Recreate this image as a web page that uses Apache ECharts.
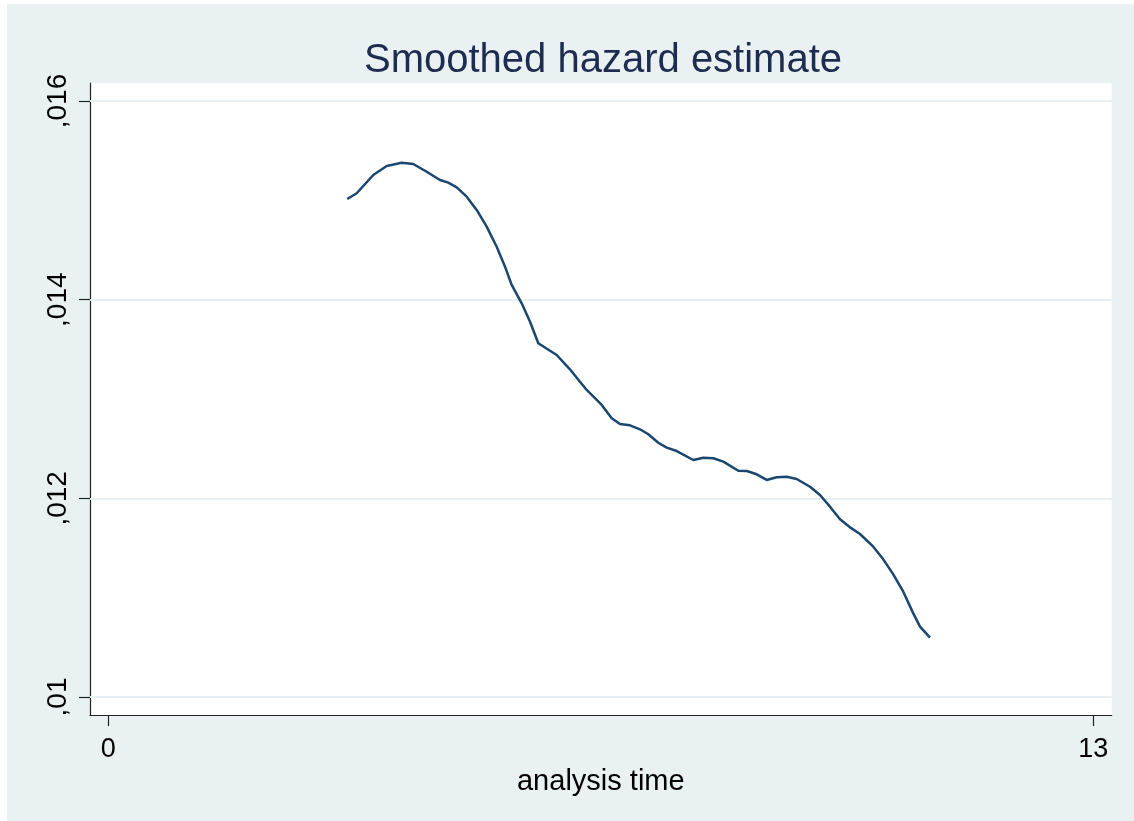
<!DOCTYPE html>
<html>
<head>
<meta charset="utf-8">
<script src="https://cdn.jsdelivr.net/npm/echarts@6/dist/echarts.min.js"></script>
<style>html,body{margin:0;padding:0;background:#fff}#c{width:1134px;height:821px}</style>
</head>
<body>
<div id="c"></div>
<script>
const titleText = 'Smoothed hazard estimate';
const xAxisName = 'analysis time';
const xTickValues = [0, 13];
const yTickValues = [0.010, 0.012, 0.014, 0.016];
const analysisTime = [3.154,3.278,3.497,3.674,3.872,4.025,4.202,4.378,4.487,4.598,4.730,4.862,4.994,5.126,5.236,5.324,5.456,5.566,5.675,5.918,6.093,6.225,6.314,6.512,6.644,6.753,6.885,7.017,7.127,7.259,7.370,7.502,7.721,7.853,7.985,8.117,8.315,8.426,8.558,8.689,8.821,8.953,9.085,9.261,9.393,9.525,9.657,9.789,9.921,10.096,10.228,10.360,10.492,10.624,10.713,10.845];
const hazard = [0.015013,0.015071,0.015255,0.015346,0.015379,0.015366,0.015288,0.015205,0.015178,0.015131,0.015037,0.014903,0.014735,0.014533,0.014332,0.014148,0.013963,0.013778,0.013561,0.013443,0.013299,0.013174,0.013091,0.012940,0.012806,0.012748,0.012735,0.012695,0.012645,0.012560,0.012510,0.012476,0.012386,0.012409,0.012403,0.012369,0.012278,0.012275,0.012242,0.012185,0.012212,0.012218,0.012195,0.012117,0.012034,0.011916,0.011789,0.011708,0.011641,0.011513,0.011386,0.011235,0.011060,0.010842,0.010708,0.010597];

const W = 1134, H = 821;
const plotL = 90, plotR = 1111.7, plotT = 83, plotB = 715;
const x0px = 108.3, x13px = 1093.3, y016px = 101, y010px = 697;
const xPerPx = 13 / (x13px - x0px);
const yPerPx = 0.006 / (y010px - y016px);
const xMin = 0 - (x0px - plotL) * xPerPx, xMax = 13 + (plotR - x13px) * xPerPx;
const yMin = 0.010 - (plotB - y010px) * yPerPx, yMax = 0.016 + (y016px - plotT) * yPerPx;

const points = analysisTime.map((t, i) => [t, hazard[i]]);
const font = 'Arial, "Liberation Sans", sans-serif';
const fmtY = v => String(+v.toFixed(3)).replace(/^0\./, ',');

const chart = echarts.init(document.getElementById('c'), null, {renderer: 'canvas'});
chart.setOption({
  animation: false,
  backgroundColor: '#ffffff',
  graphic: [{type: 'rect', z: -10, silent: true, shape: {x: 7, y: 4, width: W - 7, height: H - 4}, style: {fill: '#e9f1f3'}}],
  title: {text: titleText, left: 359, top: 36, textStyle: {fontFamily: font, fontSize: 40, fontWeight: 'normal', color: '#1e2c50'}},
  grid: [
    {left: plotL, right: W - plotR, top: plotT, bottom: H - plotB, show: true, backgroundColor: '#ffffff', borderWidth: 0},
    {left: plotL, right: W - plotR, top: y016px, bottom: H - y010px, show: false},
    {left: x0px, right: W - x13px, top: plotT, bottom: H - plotB, show: false}
  ],
  xAxis: [
    {gridIndex: 0, type: 'value', min: xMin, max: xMax, axisLine: {show: true, onZero: false, lineStyle: {color: '#222', width: 1.2}}, axisTick: {show: false}, axisLabel: {show: false}, splitLine: {show: false}},
    {gridIndex: 1, type: 'value', show: false, min: 0, max: 1},
    {gridIndex: 2, type: 'value', min: xTickValues[0], max: xTickValues[1], interval: xTickValues[1] - xTickValues[0],
     axisLine: {show: false, onZero: false}, axisTick: {show: true, length: 11, lineStyle: {color: '#222', width: 1.2}},
     axisLabel: {margin: 21, fontFamily: font, fontSize: 27, color: '#000'}, splitLine: {show: false},
     name: xAxisName, nameLocation: 'middle', nameGap: 49, nameTextStyle: {fontFamily: font, fontSize: 29, color: '#000'}}
  ],
  yAxis: [
    {gridIndex: 0, type: 'value', min: yMin, max: yMax, axisLine: {show: true, onZero: false, lineStyle: {color: '#222', width: 1.2}}, axisTick: {show: false}, axisLabel: {show: false}, splitLine: {show: false}},
    {gridIndex: 1, type: 'value', z: 1, min: yTickValues[0], max: yTickValues[yTickValues.length - 1], interval: 0.002,
     axisLine: {show: false, onZero: false}, axisTick: {show: true, length: 11, lineStyle: {color: '#222', width: 1.2}},
     axisLabel: {rotate: 90, margin: 18, fontFamily: font, fontSize: 28, color: '#000', formatter: fmtY},
     splitLine: {show: true, lineStyle: {color: '#e6eff1', width: 2}}},
    {gridIndex: 2, type: 'value', show: false, min: 0, max: 1}
  ],
  series: [{
    type: 'line', xAxisIndex: 0, yAxisIndex: 0, data: points, showSymbol: false, symbol: 'none', z: 5,
    lineStyle: {color: '#1a476f', width: 2.5}
  }]
});
</script>
</body>
</html>
